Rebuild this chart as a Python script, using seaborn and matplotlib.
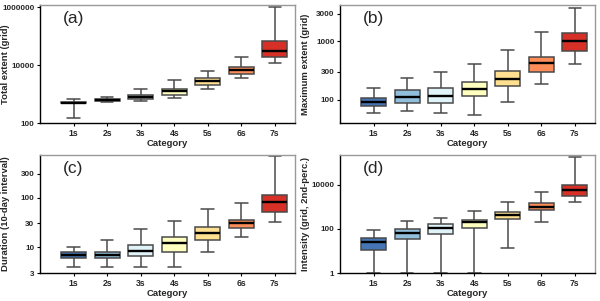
import numpy as np
import pandas as pd
import matplotlib
matplotlib.use("Agg")
import matplotlib.pyplot as plt
import seaborn as sns

categories = ["1s", "2s", "3s", "4s", "5s", "6s", "7s"]
palette = ["#4575b4", "#91bfdb", "#e0f3f8", "#ffffbf", "#fee090", "#fc8d59", "#d73027"]

# box summaries (whisker low, q1, median, q3, whisker high)
total_low = [150, 525, 560, 720, 1480, 3550, 11700]
total_q1 = [480, 575, 660, 950, 2140, 5100, 19500]
total_med = [510, 630, 780, 1290, 2800, 6600, 31000]
total_q3 = [540, 680, 910, 1550, 3470, 8500, 66000]
total_high = [650, 800, 1450, 3000, 6300, 19000, 1000000]

max_low = [59, 63, 59, 55, 93, 186, 417]
max_q1 = [78, 89, 89, 117, 170, 302, 692]
max_med = [93, 112, 117, 155, 224, 427, 1000]
max_q3 = [107, 145, 162, 200, 309, 537, 1410]
max_high = [162, 234, 295, 417, 724, 1450, 3800]

dur_low = [4, 4, 4, 4, 8.1, 16, 32]
dur_q1 = [6, 6, 6.6, 8.1, 14, 24.5, 51]
dur_med = [6.9, 6.9, 8.3, 12.3, 19.5, 30, 81]
dur_q3 = [7.9, 7.9, 11, 16.2, 25, 35.5, 112]
dur_high = [10, 14, 23, 34, 60, 79, 690]

int_low = [1, 1, 1, 1, 13.5, 209, 1660]
int_q1 = [10.7, 34.7, 56, 112, 269, 692, 3090]
int_med = [24.5, 63, 105, 195, 427, 977, 5900]
int_q3 = [37, 95, 158, 251, 575, 1480, 9550]
int_high = [85, 219, 309, 646, 1580, 4790, 186000]

panels = [
    ("(a)", "Total extent (grid)", [total_low, total_q1, total_med, total_q3, total_high],
     [100, 10000, 1000000], ["100", "10000", "1000000"], (100, 1.2e6)),
    ("(b)", "Maximum extent (grid)", [max_low, max_q1, max_med, max_q3, max_high],
     [100, 300, 1000, 3000], ["100", "300", "1000", "3000"], (40, 4200)),
    ("(c)", "Duration (10-day interval)", [dur_low, dur_q1, dur_med, dur_q3, dur_high],
     [3, 10, 30, 100, 300], ["3", "10", "30", "100", "300"], (3, 720)),
    ("(d)", "Intensity (grid, 2nd-perc.)", [int_low, int_q1, int_med, int_q3, int_high],
     [1, 100, 10000], ["1", "100", "10000"], (1, 2.2e5)),
]

sns.set_style("white")
plt.rcParams["font.family"] = ["Liberation Sans", "DejaVu Sans"]

fig = plt.figure(figsize=(6.0, 3.01), dpi=100)
W, H = 600, 301
boxes = [(40, 5, 295, 123), (340, 5, 595, 123), (40, 155, 295, 273), (340, 155, 595, 273)]

for (tag, ylabel, stats, ticks, ticklabels, ylim), (l, t, r, b) in zip(panels, boxes):
    ax = fig.add_axes([l / W, 1 - b / H, (r - l) / W, (b - t) / H])
    rows = []
    for i, cat in enumerate(categories):
        for s in stats:
            rows.append({"Category": cat, "value": s[i]})
    df = pd.DataFrame(rows)
    sns.boxplot(data=df, x="Category", y="value", hue="Category", palette=palette,
                order=categories, whis=(0, 100), width=0.75, log_scale=True,
                saturation=1, linewidth=1.1, linecolor="#4a4a4a", legend=False, ax=ax,
                medianprops=dict(color="black", linewidth=1.7), showfliers=False)
    ax.set_ylim(*ylim)
    ax.set_xlim(-1.0, 6.6)
    ax.set_yticks(ticks)
    ax.set_yticklabels(ticklabels)
    ax.yaxis.set_minor_locator(matplotlib.ticker.NullLocator())
    ax.tick_params(axis="y", length=2.5, width=0.8, pad=1.5, labelsize=5.8,
                   color="black", direction="out", left=True)
    ax.tick_params(axis="x", length=2.5, width=0.8, pad=1.5, labelsize=6.2,
                   color="black", direction="out", bottom=True)
    for lab in ax.get_xticklabels() + ax.get_yticklabels():
        lab.set_fontweight("bold")
    ax.set_xlabel("Category", fontsize=6.8, fontweight="bold", labelpad=1)
    ax.set_ylabel(ylabel, fontsize=6.8, fontweight="bold")
    ax.yaxis.set_label_coords(-0.118, 0.5)
    for side in ["left", "bottom"]:
        ax.spines[side].set_color("black")
        ax.spines[side].set_linewidth(1.0)
    for side in ["top", "right"]:
        ax.spines[side].set_color("#999999")
        ax.spines[side].set_linewidth(1.0)
    ax.text(0.09, 0.95, tag, transform=ax.transAxes, fontsize=12.5, va="top", ha="left")

fig.savefig("out.png", dpi=100)
